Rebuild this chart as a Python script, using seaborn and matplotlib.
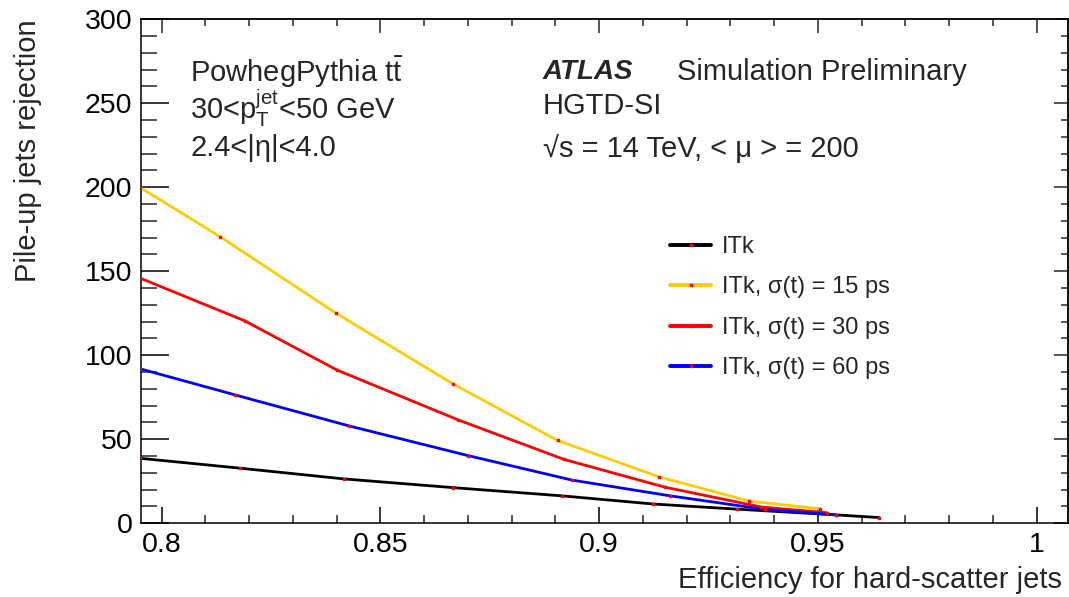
import numpy as np
import pandas as pd
import matplotlib
matplotlib.use("Agg")
import matplotlib.pyplot as plt
import seaborn as sns
from matplotlib.lines import Line2D
from matplotlib.ticker import MultipleLocator

# ---- data ----
series_names = ["ITk", "ITk, σ(t) = 15 ps", "ITk, σ(t) = 30 ps", "ITk, σ(t) = 60 ps"]

eff_itk = [0.795, 0.8179, 0.8417, 0.8667, 0.8916, 0.9122, 0.9315, 0.9541, 0.9640]
rej_itk = [38.7, 32.8, 26.4, 21.2, 16.3, 11.5, 8.4, 5.0, 3.4]

eff_15 = [0.795, 0.8133, 0.8398, 0.8667, 0.8905, 0.9136, 0.9343, 0.9505]
rej_15 = [200.0, 170.7, 125.1, 82.8, 49.3, 27.7, 13.2, 8.6]

eff_30 = [0.795, 0.8190, 0.8400, 0.8678, 0.8920, 0.9150, 0.9370, 0.9520]
rej_30 = [146.0, 120.5, 91.3, 61.5, 38.0, 21.5, 9.7, 6.3]

eff_60 = [0.795, 0.8168, 0.8429, 0.8700, 0.8938, 0.9163, 0.9380, 0.9541]
rej_60 = [92.0, 76.4, 57.9, 40.3, 25.7, 16.3, 8.2, 5.0]

x_ticks = [0.8, 0.85, 0.9, 0.95, 1.0]
x_ticklabels = ["0.8", "0.85", "0.9", "0.95", "1"]

colors = ["#000000", "#FFCC00", "#FF0000", "#0000FF"]

effs = [eff_itk, eff_15, eff_30, eff_60]
rejs = [rej_itk, rej_15, rej_30, rej_60]

frames = []
for name, e, r in zip(series_names, effs, rejs):
    frames.append(pd.DataFrame({"eff": e, "rej": r, "series": name}))
df = pd.concat(frames, ignore_index=True)

# ---- style ----
sns.set_theme(style="ticks")
plt.rcParams["font.family"] = ["Liberation Sans", "DejaVu Sans"]
plt.rcParams["mathtext.fontset"] = "custom"
plt.rcParams["mathtext.rm"] = "Liberation Sans"
plt.rcParams["mathtext.it"] = "Liberation Sans:italic"
plt.rcParams["mathtext.bf"] = "Liberation Sans:bold"

FS = 21
FS_TICK = 20.5
FS_LEG = 17

fig = plt.figure(figsize=(10.69, 5.97), dpi=100)
ax = fig.add_axes([0.1316, 0.1235, 0.9988 - 0.1316, 0.9677 - 0.1235])

sns.lineplot(data=df, x="eff", y="rej", hue="series", palette=colors,
             hue_order=series_names, sort=False, estimator=None,
             linewidth=2.0, legend=False, ax=ax)
# small red point markers like in ROOT
ax.plot(df["eff"], df["rej"], linestyle="none", marker="s", markersize=1.6,
        color="#FF0000", zorder=5, clip_on=True)

ax.xaxis.set_minor_locator(MultipleLocator(0.01))
ax.yaxis.set_major_locator(MultipleLocator(50))
ax.yaxis.set_minor_locator(MultipleLocator(10))
ax.set_xticks(x_ticks)
ax.set_xticklabels(x_ticklabels)
ax.set_xlim(0.7952, 1.0071)
ax.set_ylim(0, 300)

for sp in ax.spines.values():
    sp.set_linewidth(1.1)
    sp.set_color("black")

ax.tick_params(axis="x", which="major", direction="in", length=11.5, width=1.1,
               labelsize=FS_TICK, pad=6, colors="black")
ax.tick_params(axis="x", which="minor", direction="in", length=5.8, width=1.1)
ax.tick_params(axis="y", which="major", direction="in", length=20.5, width=1.1,
               labelsize=FS_TICK, pad=6, colors="black")
ax.tick_params(axis="y", which="minor", direction="in", length=11.5, width=1.1)

# top and right ticks (shorter)
secx = ax.secondary_xaxis("top")
secx.xaxis.set_major_locator(MultipleLocator(0.05))
secx.xaxis.set_minor_locator(MultipleLocator(0.01))
secx.tick_params(axis="x", which="major", direction="in", length=10, width=1.1, labeltop=False)
secx.tick_params(axis="x", which="minor", direction="in", length=5, width=1.1)
secx.spines["top"].set_linewidth(1.1)
secy = ax.secondary_yaxis("right")
secy.yaxis.set_major_locator(MultipleLocator(50))
secy.yaxis.set_minor_locator(MultipleLocator(10))
secy.tick_params(axis="y", which="major", direction="in", length=10, width=1.1, labelright=False)
secy.tick_params(axis="y", which="minor", direction="in", length=5, width=1.1)
secy.spines["right"].set_linewidth(1.1)

ax.set_xlabel("Efficiency for hard-scatter jets", fontsize=FS, loc="right")
ax.set_ylabel("Pile-up jets rejection", fontsize=FS, loc="top")
ax.xaxis.set_label_coords(0.9938, -0.085)
ax.xaxis.label.set_va("top")
ax.yaxis.set_label_coords(-0.1367, 0.999)
ax.yaxis.label.set_va("top")

# annotations
tr = fig.transFigure
def fx(px):
    return px / 1069.0
def fy(py):
    return 1 - py / 597.0

fig.text(fx(190), fy(72), r"PowhegPythia $\mathrm{t\bar{t}}$", fontsize=FS, va="center", ha="left")
fig.text(fx(190), fy(108), r"30<$\mathrm{p}_{\mathrm{T}}^{\mathrm{jet}}$<50 GeV", fontsize=FS, va="center", ha="left")
fig.text(fx(190), fy(148), "2.4<|η|<4.0", fontsize=FS, va="center", ha="left")

fig.text(fx(543), fy(72), "ATLAS", fontsize=FS - 1, fontweight="bold", fontstyle="italic",
         va="center", ha="left")
fig.text(fx(677), fy(72), "Simulation Preliminary", fontsize=FS, va="center", ha="left")
fig.text(fx(543), fy(106), "HGTD-SI", fontsize=FS, va="center", ha="left")
fig.text(fx(543), fy(148), "√s = 14 TeV, < μ > = 200", fontsize=FS, va="center", ha="left")

# legend
handles = [Line2D([0], [0], color=c, linewidth=2.8, marker="s", markersize=1.6,
                  markerfacecolor="#FF0000", markeredgecolor="#FF0000")
           for c in colors]
leg = ax.legend(handles, series_names, loc="upper left",
                bbox_to_anchor=(fx(670), fy(236)), bbox_transform=tr,
                frameon=False, fontsize=FS_LEG, handlelength=1.75, handletextpad=0.45,
                labelspacing=0.78, borderaxespad=0, borderpad=0)

fig.savefig("out.png", dpi=100)
